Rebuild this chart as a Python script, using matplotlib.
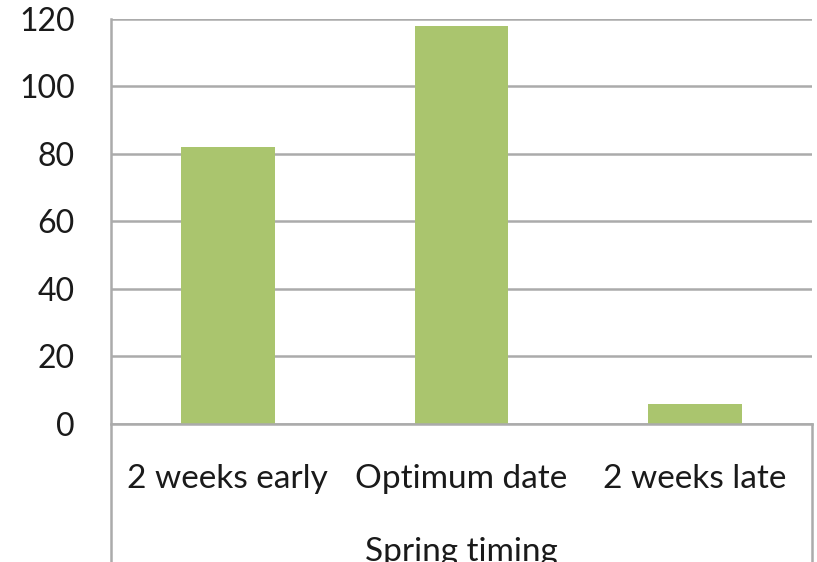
import matplotlib.pyplot as plt

# spring timing trial
categories = ['2 weeks early', 'Optimum date', '2 weeks late']
values = [82, 118, 6]
yticks = [0, 20, 40, 60, 80, 100, 120]

BAR = '#aac56e'
GRID = '#ababab'

plt.rcParams['font.family'] = ['Lato', 'DejaVu Sans']


def main():
    fig = plt.figure(figsize=(8.17, 5.62), dpi=100)
    ax = fig.add_axes([0.1359, 0.2456, 0.8580, 0.7206])

    x = range(len(categories))
    ax.bar(x, values, width=0.4, color=BAR, zorder=3)

    ax.set_xlim(-0.5, len(categories) - 0.5)
    ax.set_ylim(0, 120)
    ax.set_yticks(yticks)
    ax.yaxis.grid(True, color=GRID, linewidth=1.8, zorder=0)
    ax.tick_params(axis='y', length=0, pad=26, labelsize=23, colors='#1a1a1a')

    ax.set_xticks(list(x))
    ax.set_xticklabels(categories)
    ax.tick_params(axis='x', length=0, pad=29, labelsize=24, colors='#1a1a1a')
    ax.set_xlabel('Spring timing', fontsize=24, color='#1a1a1a', labelpad=31)

    for s in ax.spines.values():
        s.set_visible(False)

    # axis frame and the category box under it
    ax.plot([0, 0], [1, -0.4], transform=ax.transAxes, color=GRID,
            linewidth=1.8, clip_on=False, zorder=4)
    ax.plot([1, 1], [0, -0.4], transform=ax.transAxes, color=GRID,
            linewidth=1.8, clip_on=False, zorder=4)
    ax.plot([0, 1], [0, 0], transform=ax.transAxes, color=GRID,
            linewidth=1.8, clip_on=False, zorder=4)

    fig.savefig('out.png', dpi=100)


if __name__ == '__main__':
    main()
